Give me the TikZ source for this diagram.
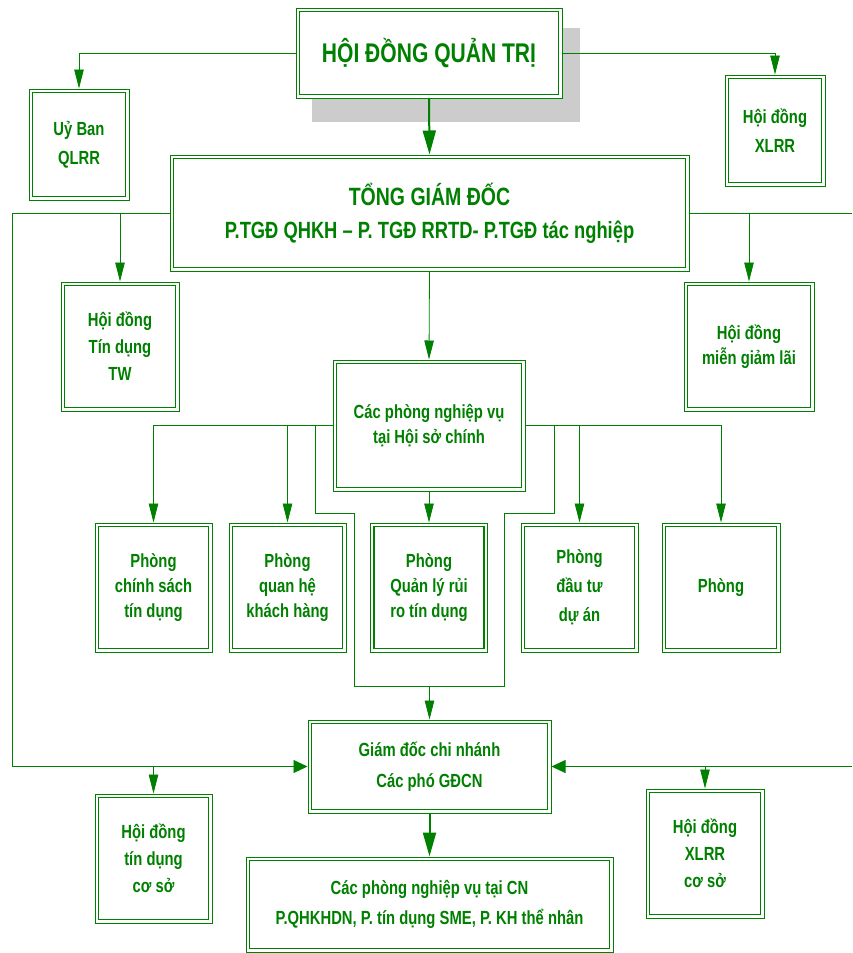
\documentclass[tikz,border=0pt]{standalone}
\usepackage{fontspec}
\setmainfont{Liberation Sans}[FakeStretch=0.78]
\usetikzlibrary{arrows.meta}
\definecolor{G}{RGB}{0,128,0}
\definecolor{Sh}{RGB}{204,204,204}
\begin{document}
\begin{tikzpicture}[x=1pt,y=-1pt,
  box/.style={draw=G, line width=1pt, fill=white, align=center, text=G,
    inner sep=0pt, font=\bfseries\fontsize{19}{25}\selectfont,
    path picture={\draw[G, line width=1.7pt]
      ([shift={(3.6pt,-3.6pt)}]path picture bounding box.north west) rectangle
      ([shift={(-3.6pt,3.6pt)}]path picture bounding box.south east);}},
  conn/.style={draw=G, line width=0.8pt},
  thickconn/.style={draw=G, line width=2pt},
  arrv/.style={-{Triangle[length=19pt,width=9.5pt]}},
  arrh/.style={-{Triangle[length=14pt,width=13pt]}},
  arrt/.style={-{Triangle[length=24pt,width=13pt]}}]
\useasboundingbox (0,0) rectangle (852,953);
\fill[white] (0,0) rectangle (852,953);
% shadow
\fill[Sh] (312,28) rectangle (580,122);
% nodes
\node[box, minimum width=266pt, minimum height=90pt, font=\bfseries\fontsize{27}{30}\selectfont] (hdqt) at (429,53) {HỘI ĐỒNG QUẢN TRỊ};
\node[box, minimum width=100pt, minimum height=111pt, font=\bfseries\fontsize{19}{29}\selectfont] (ub) at (79,144.5) {Uỷ Ban\\QLRR};
\node[box, minimum width=100pt, minimum height=111pt, font=\bfseries\fontsize{19}{29}\selectfont] (xlrr) at (775,130.5) {Hội đồng\\XLRR};
\node[box, minimum width=519pt, minimum height=116pt, font=\bfseries\fontsize{25}{33}\selectfont] (tgd) at (429.5,213)
  {TỔNG GIÁM ĐỐC\\{\fontsize{23.5}{33}\selectfont P.TGĐ QHKH – P. TGĐ RRTD- P.TGĐ tác nghiệp}};
\node[box, minimum width=118pt, minimum height=129pt, font=\bfseries\fontsize{19}{27}\selectfont] (tdtw) at (120,346.5) {Hội đồng\\Tín dụng\\TW};
\node[box, minimum width=130pt, minimum height=129pt] (mgl) at (749,346.5) {Hội đồng\\miễn giảm lãi};
\node[box, minimum width=192pt, minimum height=131pt] (hsc) at (429,425.5) {Các phòng nghiệp vụ\\tại Hội sở chính};
\node[box, minimum width=117pt, minimum height=129pt] (p1) at (153.5,587.5) {Phòng\\chính sách\\tín dụng};
\node[box, minimum width=117pt, minimum height=129pt] (p2) at (287.5,587.5) {Phòng\\quan hệ\\khách hàng};
\node[box, minimum width=117pt, minimum height=129pt] (p3) at (429,587.5) {Phòng\\Quản lý rủi\\ro tín dụng};
\node[box, minimum width=117pt, minimum height=129pt, font=\bfseries\fontsize{19}{29}\selectfont] (p4) at (579.5,587.5) {Phòng\\đầu tư\\dự án};
\node[box, minimum width=118pt, minimum height=129pt] (p5) at (721,587.5) {Phòng};
\node[box, minimum width=243pt, minimum height=93pt, font=\bfseries\fontsize{19}{31}\selectfont] (gdcn) at (429.5,766.5) {Giám đốc chi nhánh\\Các phó GĐCN};
\node[box, minimum width=117pt, minimum height=129pt, font=\bfseries\fontsize{19}{27}\selectfont] (tdcs) at (153.5,858.5) {Hội đồng\\tín dụng\\cơ sở};
\node[box, minimum width=118pt, minimum height=129pt, font=\bfseries\fontsize{19}{27}\selectfont] (xlcs) at (705,853.5) {Hội đồng\\XLRR\\cơ sở};
\node[box, minimum width=367pt, minimum height=95pt, font=\bfseries\fontsize{19}{30}\selectfont] (cn) at (429.5,904.5) {Các phòng nghiệp vụ tại CN\\P.QHKHDN, P. tín dụng SME, P. KH thể nhân};
% coordinates
\coordinate (L1) at (12,213);
\coordinate (L2) at (12,766.5);
\coordinate (R1) at (852,213);
\coordinate (R2) at (852,766.5);
\coordinate (a1) at (315,425.5);
\coordinate (a2) at (315,513);
\coordinate (a3) at (354,513);
\coordinate (a4) at (354,686);
\coordinate (a5) at (504,686);
\coordinate (a6) at (504,513);
\coordinate (a7) at (554,513);
\coordinate (a8) at (554,425.5);
\coordinate (am) at (429.5,686);
% connectors
\draw[conn, arrv] (hdqt.west) -| (ub.north);
\draw[conn, arrv] (hdqt.east) -| (xlrr.north);
\draw[thickconn, arrt] (hdqt.south) -- (tgd.north);
\draw[conn, arrh] (tgd.west) -- (L1) -- (L2) -- (gdcn.west);
\draw[conn, arrv] (tdtw.north |- tgd.west) -- (tdtw.north);
\draw[conn] (tgd.east) -- (R1);
\draw[conn, arrv] (mgl.north |- tgd.east) -- (mgl.north);
\draw[conn, arrv] (tgd.south) -- (hsc.north);
\draw[conn, arrv] (hsc.west) -| (p1.north);
\draw[conn, arrv] (p2.north |- hsc.west) -- (p2.north);
\draw[conn, arrv] (hsc.east) -| (p5.north);
\draw[conn, arrv] (p4.north |- hsc.east) -- (p4.north);
\draw[conn, arrv] (hsc.south) -- (p3.north);
\draw[conn] (a1) -- (a2) -- (a3) -- (a4) -- (a5) -- (a6) -- (a7) -- (a8);
\draw[conn, arrv] (am) -- (gdcn.north);
\draw[conn, arrv] (tdcs.north |- gdcn.west) -- (tdcs.north);
\draw[conn, arrh] (R2) -- (gdcn.east);
\draw[conn, arrv] (xlcs.north |- gdcn.east) -- (xlcs.north);
\draw[thickconn, arrt] (gdcn.south) -- (cn.north);
\end{tikzpicture}
\end{document}
